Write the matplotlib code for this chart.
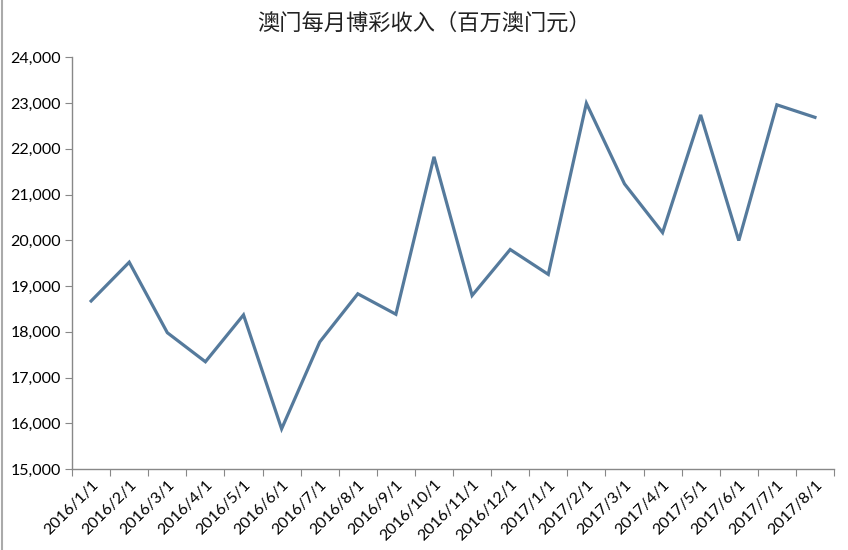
import matplotlib.pyplot as plt
from matplotlib.ticker import FuncFormatter, FixedLocator
from matplotlib.lines import Line2D

plt.rcParams['font.family'] = ['Lato', 'Noto Sans CJK SC', 'DejaVu Sans']

# 澳门每月博彩收入（百万澳门元）
months = ['2016/1/1', '2016/2/1', '2016/3/1', '2016/4/1', '2016/5/1', '2016/6/1',
          '2016/7/1', '2016/8/1', '2016/9/1', '2016/10/1', '2016/11/1', '2016/12/1',
          '2017/1/1', '2017/2/1', '2017/3/1', '2017/4/1', '2017/5/1', '2017/6/1',
          '2017/7/1', '2017/8/1']
revenue = [18674, 19521, 17981, 17346, 18370, 15880, 17778, 18831, 18384, 21824,
           18794, 19799, 19255, 22994, 21233, 20168, 22739, 19994, 22960, 22686]

fig = plt.figure(figsize=(8.48, 5.5), dpi=100)
ax = fig.add_axes([0.085, 0.147, 0.8985, 0.749])

x = list(range(len(months)))
ax.plot(x, revenue, color='#557a9c', lw=2.3, solid_joinstyle='miter')

ax.set_xlim(-0.5, len(months) - 0.5)
ax.set_ylim(15000, 24000)
ax.set_yticks(range(15000, 24001, 1000))
ax.yaxis.set_major_formatter(FuncFormatter(lambda v, p: f'{int(v):,}'))

# tick marks between categories, labels at category centres
ax.xaxis.set_major_locator(FixedLocator([i - 0.5 for i in range(len(months) + 1)]))
ax.xaxis.set_major_formatter(FuncFormatter(lambda v, p: ''))
ax.xaxis.set_minor_locator(FixedLocator(x))
ax.set_xticklabels(months, minor=True, rotation=45, ha='right', rotation_mode='anchor')
ax.tick_params(axis='x', which='minor', length=0, pad=6, labelsize=11.5)
ax.tick_params(axis='x', which='major', length=5, color='#888888', direction='out')
ax.tick_params(axis='y', length=5, color='#888888', labelsize=11.5, pad=3)

for s in ['top', 'right']:
    ax.spines[s].set_visible(False)
for s in ['left', 'bottom']:
    ax.spines[s].set_color('#888888')
    ax.spines[s].set_linewidth(1.0)

fig.text(0.5, 0.958, '澳门每月博彩收入（百万澳门元）', ha='center', va='center',
         fontsize=16, family=['Noto Sans CJK SC', 'DejaVu Sans'], color='#222222')

fig.add_artist(Line2D([0.002, 0.002], [0, 1], transform=fig.transFigure,
                      color='#aaaaaa', lw=1.5))

fig.savefig('out.png', dpi=100)
